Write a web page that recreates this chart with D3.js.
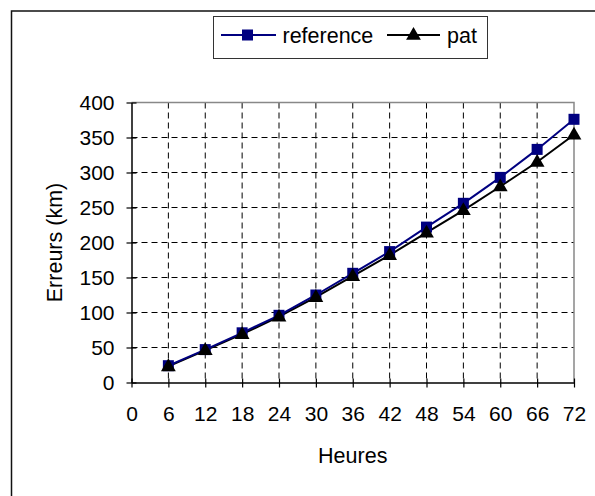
<!DOCTYPE html>
<html>
<head>
<meta charset="utf-8">
<script src="https://cdn.jsdelivr.net/npm/d3@7"></script>
<style>
  body { margin: 0; background: #fff; }
  svg text { font-family: "Liberation Sans", Arial, sans-serif; }
</style>
</head>
<body>
<script>
// data
var hours = [6, 12, 18, 24, 30, 36, 42, 48, 54, 60, 66, 72];
var reference = [24, 47, 71, 96, 125, 156, 187, 222, 256, 293, 333, 376];
var pat = [23, 46, 69, 94, 122, 152, 182, 214, 246, 280, 315, 354];
var xTicks = [0, 6, 12, 18, 24, 30, 36, 42, 48, 54, 60, 66, 72];
var yTicks = [0, 50, 100, 150, 200, 250, 300, 350, 400];

function drawChart() {
    var width = 595, height = 496;
    var mLeft = 131.5, mTop = 102.5, plotW = 442.5, plotH = 280;

    var svg = d3.select("body").append("svg")
        .attr("width", width)
        .attr("height", height);

    // outer chart frame (cut off on right and bottom)
    svg.append("rect")
        .attr("x", 11.5).attr("y", 11)
        .attr("width", 620).attr("height", 520)
        .attr("fill", "none")
        .attr("stroke", "#111")
        .attr("stroke-width", 1.5);

    var x = d3.scaleLinear().domain([0, 72]).range([0, plotW]);
    var y = d3.scaleLinear().domain([0, 400]).range([plotH, 0]);

    var g = svg.append("g").attr("transform", "translate(" + mLeft + "," + mTop + ")");

    // grid
    g.selectAll(".vgrid").data(xTicks.filter(function(d) { return d > 0 && d < 72; }))
      .enter().append("line")
        .attr("x1", function(d) { return x(d); }).attr("x2", function(d) { return x(d); })
        .attr("y1", 0).attr("y2", plotH)
        .attr("stroke", "#000").attr("stroke-width", 1)
        .attr("stroke-dasharray", "6,4");
    g.selectAll(".hgrid").data(yTicks.filter(function(d) { return d > 0 && d < 400; }))
      .enter().append("line")
        .attr("y1", function(d) { return y(d); }).attr("y2", function(d) { return y(d); })
        .attr("x1", 0).attr("x2", plotW)
        .attr("stroke", "#000").attr("stroke-width", 1)
        .attr("stroke-dasharray", "6,4");

    // plot area top/right border
    g.append("path")
        .attr("d", "M0,0H" + plotW + "V" + plotH)
        .attr("fill", "none")
        .attr("stroke", "#888")
        .attr("stroke-width", 1.5);

    // axes
    var xAxis = g.append("g")
        .attr("transform", "translate(0," + plotH + ")")
        .call(d3.axisBottom(x).tickValues(xTicks).tickSize(5).tickSizeOuter(0).tickPadding(19));
    xAxis.selectAll(".tick line").attr("y1", -4).attr("y2", 5);
    var yAxis = g.append("g")
        .call(d3.axisLeft(y).tickValues(yTicks).tickSize(5).tickSizeOuter(0).tickPadding(12));
    yAxis.selectAll(".tick line").attr("x1", 5).attr("x2", -5);
    [xAxis, yAxis].forEach(function(a) {
        a.attr("font-size", 21).attr("font-family", "Liberation Sans, Arial, sans-serif");
        a.select(".domain").attr("stroke", "#000").attr("stroke-width", 1.5);
        a.selectAll(".tick line").attr("stroke", "#000").attr("stroke-width", 1.2);
        a.selectAll("text").attr("fill", "#000");
    });

    // lines
    var line = function(vals) {
        return d3.line()
            .x(function(d, i) { return x(hours[i]); })
            .y(function(d) { return y(d); })(vals);
    };
    g.append("path").attr("d", line(pat))
        .attr("fill", "none").attr("stroke", "#000").attr("stroke-width", 2);
    g.append("path").attr("d", line(reference))
        .attr("fill", "none").attr("stroke", "#000080").attr("stroke-width", 2);

    var tri = d3.symbol().type(d3.symbolTriangle).size(95);
    g.selectAll(".sq").data(reference).enter().append("rect")
        .attr("x", function(d, i) { return x(hours[i]) - 5.5; })
        .attr("y", function(d) { return y(d) - 5.5; })
        .attr("width", 11).attr("height", 11)
        .attr("fill", "#000080");
    g.selectAll(".tri").data(pat).enter().append("path")
        .attr("d", tri)
        .attr("transform", function(d, i) { return "translate(" + x(hours[i]) + "," + (y(d) + 0.5) + ")"; })
        .attr("fill", "#000");

    // axis titles
    svg.append("text")
        .attr("x", mLeft + plotW / 2).attr("y", 463)
        .style("text-anchor", "middle")
        .attr("font-size", "21.5px")
        .text("Heures");
    svg.append("text")
        .attr("transform", "translate(62," + (mTop + plotH / 2) + ") rotate(-90)")
        .style("text-anchor", "middle")
        .attr("font-size", "21.5px")
        .text("Erreurs (km)");

    // legend
    var lg = svg.append("g");
    lg.append("rect")
        .attr("x", 213.5).attr("y", 16.5)
        .attr("width", 274).attr("height", 42)
        .attr("fill", "#fff").attr("stroke", "#333").attr("stroke-width", 1);
    lg.append("line").attr("x1", 221).attr("x2", 276).attr("y1", 35).attr("y2", 35)
        .attr("stroke", "#000080").attr("stroke-width", 2);
    lg.append("rect").attr("x", 242).attr("y", 29.5).attr("width", 11).attr("height", 11)
        .attr("fill", "#000080");
    lg.append("text").attr("x", 282.5).attr("y", 42.5)
        .attr("font-size", "21.5px").text("reference");
    lg.append("line").attr("x1", 387).attr("x2", 440).attr("y1", 35).attr("y2", 35)
        .attr("stroke", "#000").attr("stroke-width", 2);
    lg.append("path").attr("d", tri).attr("transform", "translate(413.5,35.5)")
        .attr("fill", "#000");
    lg.append("text").attr("x", 447).attr("y", 42.5)
        .attr("font-size", "21.5px").text("pat");
}

drawChart();
</script>
</body>
</html>
